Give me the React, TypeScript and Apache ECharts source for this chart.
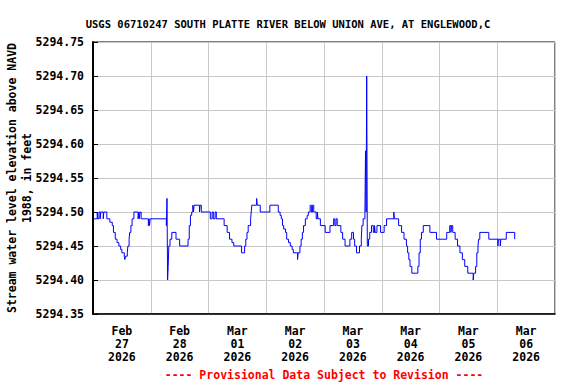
import React, { useEffect, useRef } from "react";
import * as echarts from "echarts";

const TITLE = "USGS 06710247 SOUTH PLATTE RIVER BELOW UNION AVE, AT ENGLEWOOD,C";
const Y_NAME = "Stream water level elevation above NAVD\n1988, in feet";
const FOOTER = "---- Provisional Data Subject to Revision ----";
const DAY_LABELS = [
  "Feb\n27\n2026",
  "Feb\n28\n2026",
  "Mar\n01\n2026",
  "Mar\n02\n2026",
  "Mar\n03\n2026",
  "Mar\n04\n2026",
  "Mar\n05\n2026",
  "Mar\n06\n2026",
];

// hours since 2026-02-27 00:00
const HOURS = [
  0, 1.75, 2, 2.5, 3, 3.25, 4.25, 4.5, 5.75, 7, 8, 8.5, 9.25, 10, 10.75, 11.5, 12, 13, 13.25, 13.5,
  14.25, 14.5, 15, 15.25, 15.75, 16.25, 17, 18.75, 19, 19.25, 19.5, 20, 23, 23.25, 23.5, 23.75,
  30.5, 30.75, 31, 31.25, 31.5, 32, 32.75, 34.5, 36, 39.5, 40, 40.5, 41, 41.5, 41.75, 42, 44.25,
  44.5, 45, 48.75, 49.5, 50, 50.75, 51.25, 54.5, 55.75, 56.75, 57.75, 58.5, 61.75, 63, 63.5, 64,
  64.5, 65.5, 65.75, 66, 68, 68.25, 69.5, 73.5, 77, 77.75, 78.25, 78.75, 79.25, 80, 80.5, 81.25,
  82, 82.75, 83.25, 85, 85.25, 86, 86.5, 87, 87.5, 88.25, 89, 89.5, 90.25, 90.75, 91.25, 91.75,
  92.75, 93.25, 93.5, 94.5, 96.5, 98.5, 100, 100.5, 101, 101.5, 103, 103.75, 104.75, 106.75,
  107.5, 108.25, 108.75, 109.5, 110.75, 111.5, 111.75, 112.25, 113, 113.25, 113.5, 113.75, 114,
  114.5, 115, 115.75, 116.5, 117, 117.25, 118, 119.5, 121, 122, 125, 125.25, 127, 128.25, 129.25,
  130.25, 130.75, 131.25, 131.75, 132.5, 135, 135.5, 136, 136.5, 137.25, 140, 142.75, 147, 148.25,
  148.75, 149, 149.5, 150.5, 151.5, 152.5, 153.5, 154.5, 155.75, 158, 158.25, 159, 159.5, 160,
  160.25, 160.75, 164.5, 168.25, 168.5, 169.25, 169.5, 171.75, 175.25, 175.5,
];

const LEVELS = [
  5294.49, 5294.5, 5294.49, 5294.5, 5294.49, 5294.5, 5294.49, 5294.5, 5294.49, 5294.485, 5294.48,
  5294.47, 5294.46, 5294.455, 5294.45, 5294.445, 5294.44, 5294.435, 5294.43, 5294.435, 5294.44,
  5294.45, 5294.46, 5294.47, 5294.48, 5294.49, 5294.5, 5294.49, 5294.5, 5294.49, 5294.5, 5294.49,
  5294.48, 5294.49, 5294.48, 5294.49,
  5294.48, 5294.52, 5294.4, 5294.42, 5294.45, 5294.46, 5294.47, 5294.46, 5294.45, 5294.46, 5294.48,
  5294.495, 5294.5, 5294.51, 5294.5, 5294.51, 5294.5,
  5294.51, 5294.5, 5294.49, 5294.5, 5294.49, 5294.5, 5294.49, 5294.48, 5294.47, 5294.46, 5294.455,
  5294.45, 5294.44, 5294.45, 5294.46, 5294.47,
  5294.48, 5294.49, 5294.5, 5294.51, 5294.52, 5294.51, 5294.5, 5294.51, 5294.5, 5294.495, 5294.49,
  5294.48, 5294.475, 5294.47, 5294.46, 5294.455,
  5294.45, 5294.445, 5294.44, 5294.43, 5294.44, 5294.45, 5294.46, 5294.47, 5294.48, 5294.49,
  5294.495, 5294.5, 5294.51, 5294.5, 5294.51, 5294.5,
  5294.49, 5294.5, 5294.49, 5294.48, 5294.47, 5294.48, 5294.49, 5294.48, 5294.49, 5294.48, 5294.47,
  5294.46, 5294.45, 5294.46,
  5294.47, 5294.46, 5294.45, 5294.44, 5294.45, 5294.46, 5294.48, 5294.49, 5294.5, 5294.59, 5294.5,
  5294.7, 5294.45,
  5294.46, 5294.47, 5294.48, 5294.47, 5294.48, 5294.47, 5294.48, 5294.47, 5294.48, 5294.49, 5294.5,
  5294.49, 5294.48, 5294.47, 5294.46,
  5294.45, 5294.44, 5294.43, 5294.42, 5294.41, 5294.42, 5294.44, 5294.46, 5294.47, 5294.48, 5294.47,
  5294.46, 5294.47, 5294.48,
  5294.47, 5294.48, 5294.47, 5294.46, 5294.45, 5294.44, 5294.43, 5294.42, 5294.41, 5294.4, 5294.41,
  5294.42, 5294.44, 5294.45,
  5294.46, 5294.47, 5294.46, 5294.45, 5294.46, 5294.45, 5294.46, 5294.47, 5294.46, 5294.46,
];

const Y_MIN = 5294.35;
const Y_MAX = 5294.75;
const Y_STEP = 0.05;

const FONT = '"DejaVu Sans Mono", "Liberation Mono", monospace';

export default function App() {
  const ref = useRef<HTMLDivElement>(null);

  useEffect(() => {
    if (!ref.current) return;
    const chart = echarts.init(ref.current, undefined, { renderer: "svg" });
    const data = HOURS.map((h, i) => [h, LEVELS[i]]);
    chart.setOption({
      animation: false,
      backgroundColor: "#ffffff",
      title: {
        text: TITLE,
        left: "center",
        top: 13,
        textStyle: { fontFamily: FONT, fontWeight: "bold", fontSize: 10.5, color: "#000" },
      },
      grid: {
        left: 93,
        right: 21,
        top: 42,
        bottom: 70,
        containLabel: false,
        outerBoundsMode: "none",
        show: true,
        borderColor: "#000",
        borderWidth: 1,
        backgroundColor: "transparent",
      },
      xAxis: [
        {
          type: "value",
          min: 0,
          max: 192,
          interval: 24,
          axisLine: { show: true, lineStyle: { color: "#000", width: 1.5 } },
          axisTick: { show: false },
          axisLabel: { show: false },
          splitLine: { show: true, lineStyle: { color: "#c8c8c8", width: 1 } },
        },
        {
          type: "value",
          position: "bottom",
          min: 0,
          max: 192,
          interval: 12,
          axisLine: { show: false },
          axisTick: { show: false },
          splitLine: { show: false },
          axisLabel: {
            show: true,
            margin: 10,
            color: "#000",
            fontFamily: FONT,
            fontWeight: "bold",
            fontSize: 11.5,
            lineHeight: 13,
            formatter: (v: number) => {
              const r = Math.round(v);
              if (r % 24 !== 12) return "";
              return DAY_LABELS[(r - 12) / 24] ?? "";
            },
          },
        },
      ],
      yAxis: {
        type: "value",
        min: Y_MIN,
        max: Y_MAX,
        interval: Y_STEP,
        name: Y_NAME,
        nameLocation: "middle",
        nameGap: 59,
        nameMoveOverlap: false,
        nameTextStyle: {
          fontFamily: FONT,
          fontWeight: "bold",
          fontSize: 11.5,
          lineHeight: 15,
          color: "#000",
        },
        axisLine: { show: true, lineStyle: { color: "#000", width: 2 } },
        axisTick: { show: true, inside: true, length: 5, lineStyle: { color: "#000" } },
        splitLine: { show: true, lineStyle: { color: "#c8c8c8", width: 1 } },
        axisLabel: {
          margin: 9,
          color: "#000",
          fontFamily: FONT,
          fontWeight: "bold",
          fontSize: 11.5,
          formatter: (v: number) => v.toFixed(2),
        },
      },
      series: [
        {
          type: "line",
          xAxisIndex: 0,
          step: "end",
          showSymbol: false,
          symbol: "none",
          data,
          lineStyle: { color: "#0000ff", width: 1 },
          itemStyle: { color: "#0000ff" },
        },
      ],
      graphic: [
        {
          type: "text",
          x: 324,
          y: 375,
          style: {
            text: FOOTER,
            textAlign: "center",
            textVerticalAlign: "middle",
            fill: "#ff0000",
            font: `bold 11.5px ${FONT}`,
          },
        },
      ],
    });
    return () => chart.dispose();
  }, []);

  return (
    <div
      ref={ref}
      style={{ position: "fixed", left: 0, top: 0, width: 576, height: 384, background: "#fff" }}
    />
  );
}
